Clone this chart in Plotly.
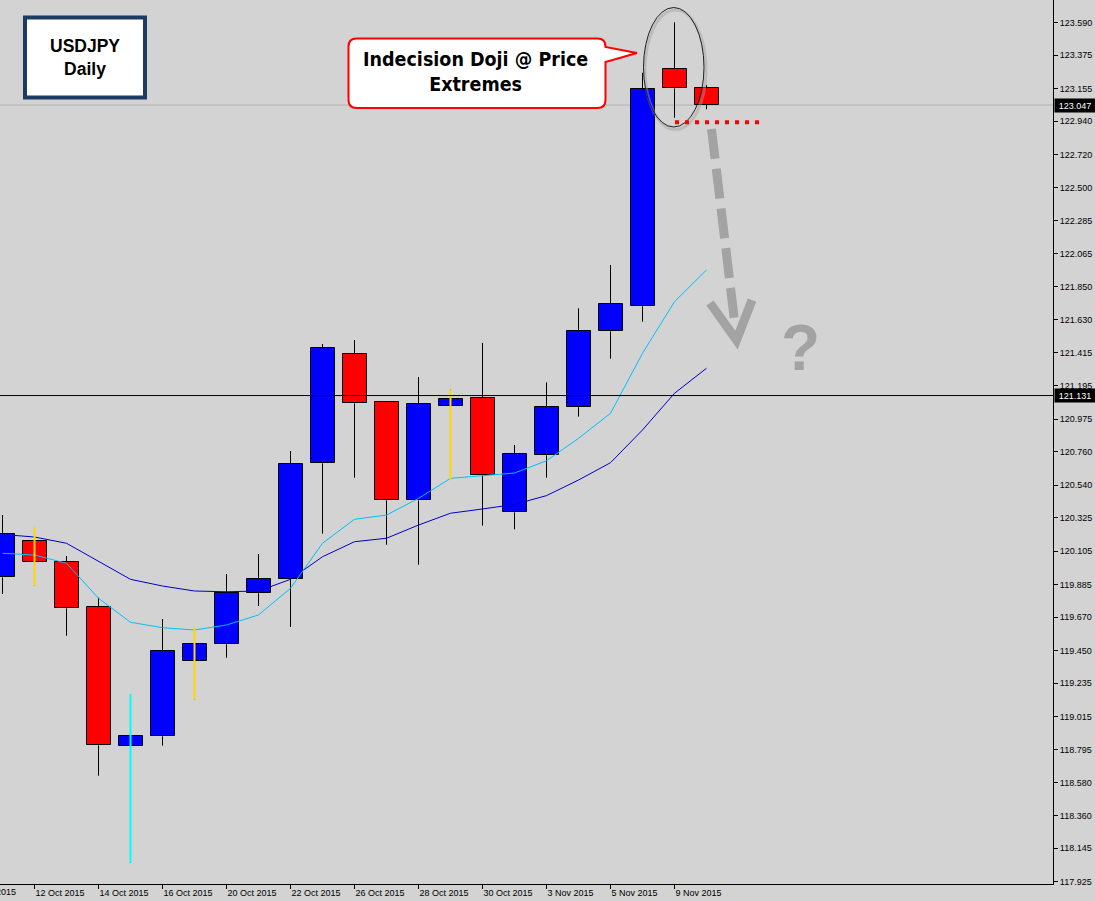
import plotly.graph_objects as go

# ---------------- data ----------------
dates = ["9 Oct 2015", "12 Oct 2015", "13 Oct 2015", "14 Oct 2015", "15 Oct 2015",
         "16 Oct 2015", "19 Oct 2015", "20 Oct 2015", "21 Oct 2015", "22 Oct 2015",
         "23 Oct 2015", "26 Oct 2015", "27 Oct 2015", "28 Oct 2015", "29 Oct 2015",
         "30 Oct 2015", "2 Nov 2015", "3 Nov 2015", "4 Nov 2015", "5 Nov 2015",
         "6 Nov 2015", "9 Nov 2015", "10 Nov 2015"]
opens = [119.932, 120.172, 120.033, 119.735, 118.818, 118.884, 119.378, 119.491, 119.827,
         119.919, 120.684, 121.403, 121.087, 120.440, 121.060, 121.113, 120.361, 120.737,
         121.054, 121.555, 121.720, 123.283, 123.157]
highs = [120.343, 120.258, 120.073, 119.798, 119.163, 119.657, 119.605, 119.954, 120.086,
         120.765, 121.471, 121.497, 121.095, 121.253, 121.172, 121.478, 120.805, 121.218,
         121.706, 121.992, 123.260, 123.593, 123.179]
lows = [119.822, 119.877, 119.547, 118.624, 118.050, 118.822, 119.128, 119.402, 119.743,
        119.605, 120.220, 120.589, 120.147, 120.015, 120.574, 120.273, 120.249, 120.589,
        120.992, 121.374, 121.618, 122.963, 123.019]
closes = [120.216, 120.031, 119.728, 118.824, 118.884, 119.444, 119.491, 119.829, 119.919,
          120.678, 121.443, 121.080, 120.440, 121.073, 121.106, 120.605, 120.744, 121.054,
          121.555, 121.733, 123.151, 123.157, 123.047]
ma_fast = [120.091, 120.079, 120.025, 119.794, 119.636, 119.600, 119.585, 119.618, 119.684,
           119.860, 120.157, 120.315, 120.343, 120.453, 120.585, 120.600, 120.620, 120.701,
           120.849, 121.014, 121.410, 121.750, 121.959]
ma_slow = [120.215, 120.198, 120.157, 120.040, 119.919, 119.875, 119.842, 119.837, 119.842,
           119.919, 120.068, 120.167, 120.190, 120.277, 120.355, 120.383, 120.413, 120.471,
           120.574, 120.688, 120.904, 121.146, 121.311]
highlight_dates = ["12 Oct 2015", "15 Oct 2015", "19 Oct 2015", "29 Oct 2015"]
highlight_colors = ["#FFD700", "#00FFFF", "#FFD700", "#FFD700"]
label_dates = ["12 Oct 2015", "14 Oct 2015", "16 Oct 2015", "20 Oct 2015", "22 Oct 2015",
               "26 Oct 2015", "28 Oct 2015", "30 Oct 2015", "3 Nov 2015", "5 Nov 2015",
               "9 Nov 2015"]
price_ticks = [123.590, 123.375, 123.155, 122.940, 122.720, 122.500, 122.285, 122.065,
               121.850, 121.630, 121.415, 121.195, 120.975, 120.760, 120.540, 120.325,
               120.105, 119.885, 119.670, 119.450, 119.235, 119.015, 118.795, 118.580,
               118.360, 118.145, 117.925]
bid_price = 123.047
hline_price = 121.131

# ---------------- layout constants ----------------
W, H = 1095, 901
PW, PH = 1053, 884          # plot area in pixels
BG = "#D3D3D3"
GRAY = "#A3A3A3"
AXFONT = dict(family="Liberation Sans, Arial, sans-serif", size=9, color="black")


def px(x):
    return x / PW


def py(y):
    return 1 - y / PH


fig = go.Figure()

# wicks, split around body so they never cross the filled body
wx, wy = [], []
for d, o, h, l, c in zip(dates, opens, highs, lows, closes):
    top, bot = max(o, c), min(o, c)
    wx += [d, d, None, d, d, None]
    wy += [h, top, None, bot, l, None]
fig.add_trace(go.Scatter(x=wx, y=wy, mode="lines", line=dict(color="black", width=1),
                         hoverinfo="skip"))

# bodies
fig.add_trace(go.Bar(
    x=dates,
    y=[abs(c - o) for o, c in zip(opens, closes)],
    base=[min(o, c) for o, c in zip(opens, closes)],
    width=0.75,
    marker=dict(color=["#0000FF" if c >= o else "#FF0000" for o, c in zip(opens, closes)],
                line=dict(color="black", width=1)),
    hoverinfo="skip",
))

# moving averages
fig.add_trace(go.Scatter(x=dates, y=ma_slow, mode="lines",
                         line=dict(color="#0000CD", width=1), hoverinfo="skip"))
fig.add_trace(go.Scatter(x=dates, y=ma_fast, mode="lines",
                         line=dict(color="#00BFFF", width=1), hoverinfo="skip"))

# highlighted wicks
for d, col in zip(highlight_dates, highlight_colors):
    i = dates.index(d)
    fig.add_trace(go.Scatter(x=[d, d], y=[lows[i], highs[i]], mode="lines",
                             line=dict(color=col, width=2), hoverinfo="skip"))

x0 = -2.5 / 32
x1 = x0 + PW / 32

fig.update_layout(
    width=W, height=H, autosize=False,
    margin=dict(l=0, r=W - PW, t=0, b=H - PH, pad=0),
    paper_bgcolor=BG, plot_bgcolor=BG,
    showlegend=False, bargap=0,
    xaxis=dict(type="category", range=[x0, x1], tickmode="array",
               tickvals=label_dates, ticktext=label_dates,
               ticks="outside", ticklen=4, tickcolor="black", tickwidth=1,
               ticklabelposition="outside right",
               showline=True, linecolor="black", linewidth=1,
               showgrid=False, zeroline=False, tickfont=AXFONT, fixedrange=True),
    yaxis=dict(side="right", range=[123.590 - (PH - 22.7) / 151.63, 123.590 + 22.7 / 151.63],
               tickmode="array", tickvals=price_ticks,
               ticktext=[f"{v:.3f}" for v in price_ticks],
               ticks="outside", ticklen=4, tickcolor="black", tickwidth=1,
               showline=True, linecolor="black", linewidth=1,
               showgrid=False, zeroline=False, tickfont=AXFONT, fixedrange=True),
)

shapes = []
shapes.append(dict(type="line", xref="paper", yref="y", x0=0, x1=1, y0=bid_price, y1=bid_price,
                   line=dict(color="#B4B4B4", width=1), layer="below"))
shapes.append(dict(type="line", xref="paper", yref="y", x0=0, x1=1, y0=hline_price, y1=hline_price,
                   line=dict(color="black", width=1), layer="above"))

# USDJPY box
shapes.append(dict(type="rect", xref="paper", yref="paper", x0=px(25), x1=px(145),
                   y0=py(17.5), y1=py(97.5), line=dict(color="#1C3B63", width=4),
                   fillcolor="white", layer="above"))

# callout bubble
L, R, T, B, r = 348.5, 605.5, 38.5, 108, 8
pts = [("M", L + r, T), ("L", R - r, T), ("Q", R, T, R, T + r), ("L", R, 47), ("L", 637, 53),
       ("L", R, 62), ("L", R, B - r), ("Q", R, B, R - r, B), ("L", L + r, B),
       ("Q", L, B, L, B - r), ("L", L, T + r), ("Q", L, T, L + r, T)]
path = ""
for p in pts:
    cmd = p[0]
    coords = p[1:]
    segs = []
    for k in range(0, len(coords), 2):
        segs.append(f"{px(coords[k]):.5f},{py(coords[k + 1]):.5f}")
    path += cmd + " " + " ".join(segs) + " "
path += "Z"
shapes.append(dict(type="path", xref="paper", yref="paper", path=path,
                   line=dict(color="#FF0000", width=2), fillcolor="white", layer="above"))

# ellipse around doji (with faint shadow)
shapes.append(dict(type="circle", xref="paper", yref="paper", x0=px(645), x1=px(706),
                   y0=py(10), y1=py(129.5), line=dict(color="rgba(160,160,160,0.45)", width=3),
                   layer="above"))
shapes.append(dict(type="circle", xref="paper", yref="paper", x0=px(643.5), x1=px(704),
                   y0=py(7.5), y1=py(127), line=dict(color="#202020", width=1), layer="above"))

# red dotted support line
shapes.append(dict(type="line", xref="paper", yref="paper", x0=px(675), x1=px(762),
                   y0=py(122.3), y1=py(122.3), line=dict(color="#FF0000", width=4, dash="4px,6px"),
                   layer="above"))

# gray dashed arrow
shapes.append(dict(type="line", xref="paper", yref="paper", x0=px(711.5), x1=px(735),
                   y0=py(129), y1=py(325), line=dict(color=GRAY, width=9, dash="30px,10px"),
                   layer="above"))
shapes.append(dict(type="path", xref="paper", yref="paper",
                   path=f"M {px(710):.5f},{py(303):.5f} L {px(736.5):.5f},{py(340):.5f} "
                        f"L {px(752):.5f},{py(300):.5f}",
                   line=dict(color=GRAY, width=9), layer="above"))

fig.update_layout(shapes=shapes)

annotations = [
    dict(xref="paper", yref="paper", x=px(85), y=py(58), text="<b>USDJPY</b><br><b>Daily</b>",
         showarrow=False, xanchor="center", yanchor="middle",
         font=dict(family="Liberation Sans, Arial, sans-serif", size=17.5, color="black")),
    dict(xref="paper", yref="paper", x=px(475), y=py(72),
         text="<b>Indecision Doji @ Price</b><br><b>Extremes</b>",
         showarrow=False, xanchor="center", yanchor="middle",
         font=dict(family="DejaVu Sans Condensed, Liberation Sans Narrow, Liberation Sans, sans-serif",
                   size=19.5, color="black")),
    dict(xref="paper", yref="paper", x=px(800), y=py(348), text="<b>?</b>", showarrow=False,
         xanchor="center", yanchor="middle",
         font=dict(family="Liberation Sans, Arial, sans-serif", size=64, color=GRAY)),
    dict(xref="paper", yref="y", x=1, xshift=1, y=bid_price, text=f"{bid_price:.3f}",
         showarrow=False, xanchor="left", yanchor="middle", bgcolor="black", width=38, height=11,
         borderpad=1, font=dict(family="Liberation Sans, Arial, sans-serif", size=9, color="white")),
    dict(xref="paper", yref="y", x=1, xshift=1, y=hline_price, text=f"{hline_price:.3f}",
         showarrow=False, xanchor="left", yanchor="middle", bgcolor="black", width=38, height=11,
         borderpad=1, font=dict(family="Liberation Sans, Arial, sans-serif", size=9, color="white")),
    dict(xref="paper", yref="paper", x=px(-30.5), y=py(892), text="8 Oct 2015", showarrow=False,
         xanchor="left", yanchor="middle", font=AXFONT),
]
fig.update_layout(annotations=annotations)

fig.write_html("out.html", config={"displayModeBar": False},
               post_script="document.body.style.margin='0';document.body.style.overflow='hidden';")
